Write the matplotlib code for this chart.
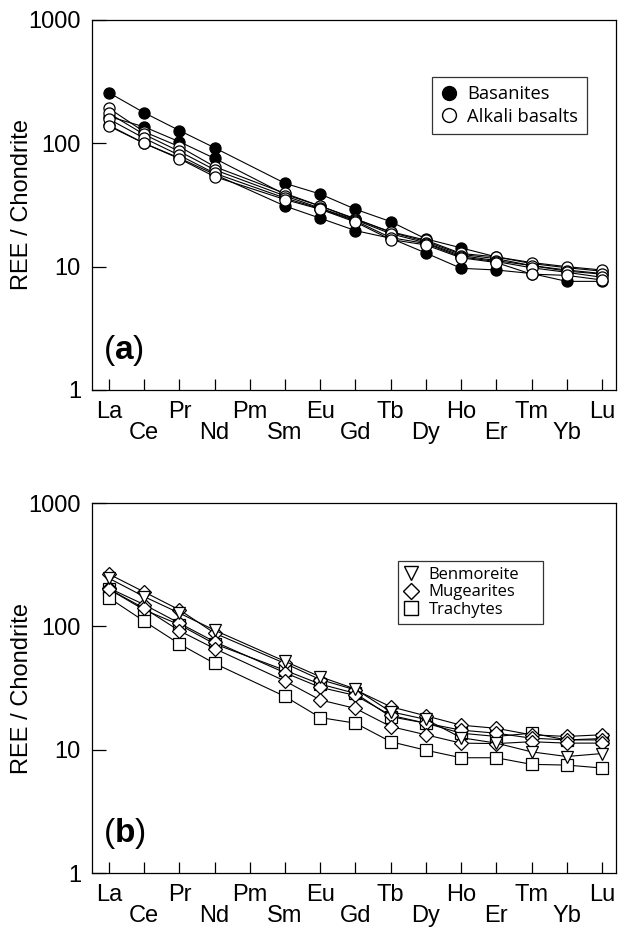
import matplotlib
matplotlib.use('Agg')
import matplotlib.pyplot as plt
from matplotlib.lines import Line2D
from matplotlib.ticker import NullLocator
import numpy as np

plt.rcParams['font.family'] = ['Liberation Sans', 'DejaVu Sans']
plt.rcParams['mathtext.fontset'] = 'custom'
plt.rcParams['mathtext.bf'] = 'Liberation Sans:bold'
plt.rcParams['mathtext.rm'] = 'Liberation Sans'

# ---------------- data ----------------
elements = ['La', 'Ce', 'Pr', 'Nd', 'Pm', 'Sm', 'Eu', 'Gd', 'Tb', 'Dy', 'Ho', 'Er', 'Tm', 'Yb', 'Lu']
measured = ['La', 'Ce', 'Pr', 'Nd', 'Sm', 'Eu', 'Gd', 'Tb', 'Dy', 'Ho', 'Er', 'Tm', 'Yb', 'Lu']

# panel (a)
basanite_1 = [257, 177, 127, 92, 47.4, 38.8, 29.2, 23.2, 16.8, 14.2, 12.0, 10.6, 9.8, 9.2]
basanite_2 = [165, 136, 103, 75.5, 38.5, 31.0, 24.5, 19.0, 16.0, 12.6, 11.6, 10.2, 9.4, 8.8]
basanite_3 = [140, 100, 76, 56, 31.0, 24.7, 19.6, 17.0, 12.9, 9.7, 9.4, 8.8, 7.6, 7.6]
alkali_1 = [192, 124, 94, 64.7, 39.3, 31.0, 24.2, 19.2, 16.4, 12.8, 12.0, 10.8, 10.0, 9.4]
alkali_2 = [175, 118, 86, 61, 37.5, 29.8, 23.9, 18.5, 15.6, 12.3, 11.2, 10.2, 9.2, 8.7]
alkali_3 = [157, 110, 80, 57.2, 36.0, 29.5, 23.5, 17.2, 15.4, 12.0, 11.0, 9.8, 9.0, 8.2]
alkali_4 = [138, 100, 75, 53.7, 35.0, 29.2, 23.0, 16.6, 15.0, 11.8, 10.8, 8.7, 8.5, 7.8]

# panel (b)
benmoreite_1 = [245, 174, 128, 93, 52, 39, 31, 20.3, 17.6, 12.5, 11.3, 9.6, 8.8, 9.3]
mugearite_1 = [265, 190, 136, 88, 50, 37, 30.5, 22.3, 18.8, 15.8, 14.9, 13.2, 12.8, 13.2]
mugearite_2 = [204, 150, 106, 75, 42, 32, 27.5, 19.0, 16.4, 14.4, 13.6, 12.4, 12.0, 12.0]
mugearite_3 = [200, 140, 92, 66, 36, 25.3, 21.6, 15.4, 13.2, 11.3, 11.2, 11.6, 11.3, 11.3]
trachyte_1 = [200, 136, 103, 72, 44, 34, 28.6, 18.5, 16.4, 13.6, 12.8, 13.6, 12.0, 12.3]
trachyte_2 = [170, 110, 72, 50, 27, 18.2, 16.4, 11.6, 9.9, 8.6, 8.6, 7.6, 7.5, 7.1]

ytick_vals = [1, 10, 100, 1000]
ytick_labels = ['1', '10', '100', '1000']

xpos = [elements.index(e) for e in measured]

W, H = 618, 927
fig = plt.figure(figsize=(W / 100, H / 100), dpi=100)

def px_axes(left, top, right, bottom):
    return fig.add_axes([left / W, 1 - bottom / H, (right - left) / W, (bottom - top) / H])

ax1 = px_axes(92, 20, 616, 390)
ax2 = px_axes(92, 503, 616, 873)

FS = 17

def style(ax, tag):
    ax.set_yscale('log')
    ax.set_ylim(1, 1000)
    ax.set_xlim(-0.483, 14.4)
    ax.set_yticks(ytick_vals)
    ax.set_yticklabels(ytick_labels)
    ax.yaxis.set_minor_locator(NullLocator())
    ax.set_xticks(range(len(elements)))
    ax.tick_params(axis='x', which='both', labelbottom=False, direction='in', length=8, width=0.9)
    ax.tick_params(axis='y', which='both', direction='in', length=10, width=0.9, labelsize=FS, pad=8)
    for s in ax.spines.values():
        s.set_linewidth(0.9)
    for i, el in enumerate(elements):
        ax.annotate(el, xy=(i, 0), xycoords=('data', 'axes fraction'),
                    xytext=(0, -28 if i % 2 == 0 else -49), textcoords='offset pixels',
                    ha='center', va='baseline', fontsize=FS)
    ax.text(0.021, 0.084, r'($\mathbf{' + tag + '}$)', transform=ax.transAxes,
            fontsize=24, ha='left', va='baseline')

style(ax1, 'a')
style(ax2, 'b')

for ax, yc in ((ax1, 205), (ax2, 688)):
    fig.text(22 / W, 1 - yc / H, 'REE / Chondrite', rotation=90, ha='center', va='center', fontsize=FS)

lw = 0.8
mew = 0.9
ms = 8

for s in (basanite_1, basanite_2, basanite_3):
    ax1.plot(xpos, s, '-', color='black', lw=lw, marker='o', ms=ms, mfc='black', mec='black', mew=mew, zorder=3)
for s in (alkali_1, alkali_2, alkali_3, alkali_4):
    ax1.plot(xpos, s, '-', color='black', lw=lw, marker='o', ms=ms, mfc='white', mec='black', mew=mew, zorder=4)

for s in (trachyte_1, trachyte_2):
    ax2.plot(xpos, s, '-', color='black', lw=lw, marker='s', ms=8, mfc='white', mec='black', mew=mew, zorder=3)
for s in (mugearite_1, mugearite_2, mugearite_3):
    ax2.plot(xpos, s, '-', color='black', lw=lw, marker='D', ms=7, mfc='white', mec='black', mew=mew, zorder=4)
for s in (benmoreite_1,):
    ax2.plot(xpos, s, '-', color='black', lw=lw, marker='v', ms=9, mfc='white', mec='black', mew=mew, zorder=5)

def px_box(ax, left, top, right, bottom, axtop, axbottom):
    h = axbottom - axtop
    return ((left - 92) / 524, (axbottom - bottom) / h, (right - left) / 524, (bottom - top) / h)

h1 = [Line2D([], [], ls='none', marker='o', ms=10, mfc='black', mec='black', mew=1),
      Line2D([], [], ls='none', marker='o', ms=10, mfc='white', mec='black', mew=1)]
leg1 = ax1.legend(h1, ['Basanites', 'Alkali basalts'], loc='upper left', mode='expand',
                  bbox_to_anchor=px_box(ax1, 432, 77, 587, 127, 20, 390), borderaxespad=0,
                  frameon=True, fancybox=False, edgecolor='black',
                  handlelength=1.0, handletextpad=0.45, labelspacing=0.25, borderpad=0.45,
                  prop={'family': ['Open Sans', 'DejaVu Sans'], 'size': 13.2})
leg1.get_frame().set_linewidth(0.9)

h2 = [Line2D([], [], ls='none', marker='v', ms=10, mfc='white', mec='black', mew=1),
      Line2D([], [], ls='none', marker='D', ms=8.5, mfc='white', mec='black', mew=1),
      Line2D([], [], ls='none', marker='s', ms=10, mfc='white', mec='black', mew=1)]
leg2 = ax2.legend(h2, ['Benmoreite', 'Mugearites', 'Trachytes'], loc='upper left', mode='expand',
                  bbox_to_anchor=px_box(ax2, 398, 561, 543, 612, 503, 873), borderaxespad=0,
                  frameon=True, fancybox=False, edgecolor='black',
                  handlelength=0.9, handletextpad=0.6, labelspacing=0.1, borderpad=0.35,
                  prop={'family': ['Open Sans', 'DejaVu Sans'], 'size': 12})
leg2.get_frame().set_linewidth(0.9)

fig.savefig('out.png', dpi=100)
